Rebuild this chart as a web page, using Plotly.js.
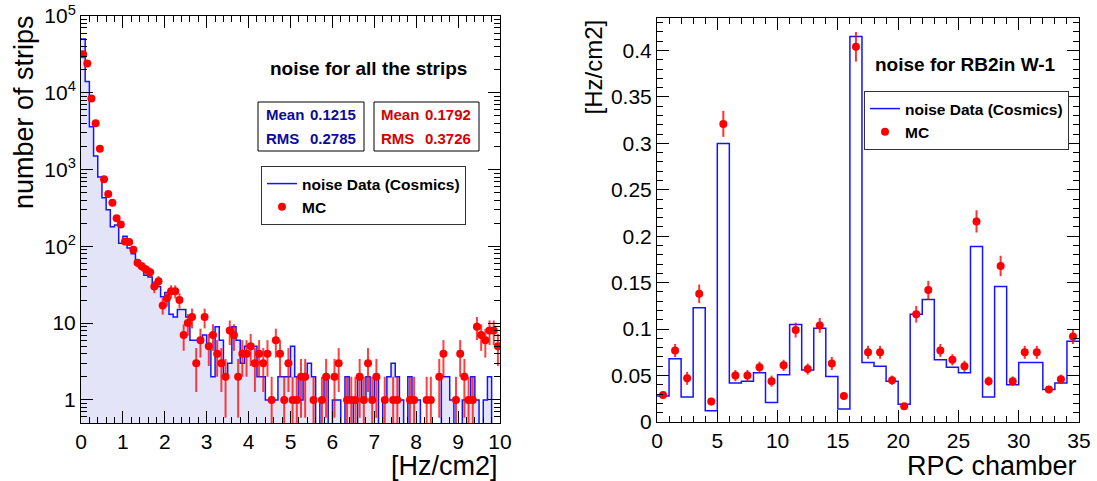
<!DOCTYPE html>
<html><head><meta charset="utf-8">
<script src="https://cdn.plot.ly/plotly-3.0.1.min.js"></script>
<style>html,body{margin:0;padding:0;background:#fff;} #chart{width:1097px;height:481px;}</style>
</head><body><div id="chart"></div>
<script>
// ---------- data ----------
const stripBinWidth = 0.1;
const stripNBins = 100;
const stripData = [50000,14000,3600,1500,800,430,300,180,190,110,
  135,95,80,65,52,42,40,33,30,22,
  25,13,12,15,15,12,6,6,6,7,
  5,2,9,6,2,3,9,6,3,5,
  5,5,2,2,1,1,1,2,2,2,
  5,2,1,2,3,2,0,1,2,0,
  1,1,0,2,1,0,2,1,2,1,
  2,0,1,2,3,2,1,0,2,1,
  1,0,0,0,0,0,2,2,1,0,
  0,1,1,2,1,0,1,2,0,0];
const stripMC = [31800,24000,8400,4000,1860,750,480,370,233,193,
  116,114,90,61,55,50,46,30,35,17,
  21,26,26,20,7,10,12,3,6,12,
  5,7,4,3,2,8,7,2,4,4,
  5,3,4,3,4,1,6,4,1,3,
  1,1,2,2,0,1,0,1,2,0,
  2,3,0,1,1,1,2,1,3,1,
  2,0,1,0,1,1,0,0,1,1,
  0,0,1,1,0,2,4,0,0,1,
  4,2,1,1,9,7,6,8,8,5];

const chamberNBins = 35;
const chamberData = [0.028,0.068,0.027,0.123,0.012,0.300,0.042,0.044,0.053,0.021,
  0.051,0.105,0.056,0.101,0.049,0.014,0.415,0.064,0.060,0.044,
  0.019,0.116,0.132,0.067,0.059,0.053,0.189,0.027,0.146,0.040,
  0.064,0.064,0.035,0.042,0.087];
const chamberMC = [0.029,0.077,0.047,0.138,0.022,0.321,0.050,0.050,0.059,0.044,
  0.061,0.099,0.057,0.104,0.063,0.028,0.404,0.075,0.075,0.045,
  0.017,0.116,0.142,0.077,0.067,0.060,0.216,0.044,0.168,0.044,
  0.075,0.075,0.035,0.046,0.092];
const chamberMCErr = [0.004,0.007,0.007,0.010,0.004,0.014,0.006,0.006,0.006,0.006,
  0.006,0.008,0.006,0.008,0.007,0.004,0.016,0.007,0.007,0.005,
  0.003,0.009,0.010,0.007,0.006,0.006,0.012,0.005,0.011,0.005,
  0.007,0.007,0.004,0.005,0.008];

const logTickVals = [1, 10, 100, 1000, 10000, 100000];
const logTickText = ['1', '10', '10<sup>2</sup>', '10<sup>3</sup>', '10<sup>4</sup>', '10<sup>5</sup>'];

const statNames = ['Mean', 'RMS'];
const dataStatValues = ['0.1215', '0.2785'];
const mcStatValues = ['0.1792', '0.3726'];
const legendNames = ['noise Data (Cosmics)', 'MC'];
const titles = ['noise for all the strips', 'noise for RB2in W-1'];
const axisTitles = {leftX: '[Hz/cm2]', leftY: 'number of strips', rightX: 'RPC chamber', rightY: '[Hz/cm2]'};

// ---------- helpers ----------
const W = 1097, H = 481;
const px = v => v / W;
const py = v => 1 - v / H;
const FONT = 'Liberation Sans, Arial, Helvetica, sans-serif';
const BLUE = 'rgb(20,20,255)';
const RED = 'rgb(255,0,0)';

const stripEdges = Array.from({length: stripNBins + 1}, (_, i) => +(i * stripBinWidth).toFixed(2));
const stripCenters = stripEdges.slice(0, -1).map(e => +(e + stripBinWidth / 2).toFixed(3));
const logFloor = 0.3; // below the visible log range: empty bins drop to the bottom edge
const stripStepY = stripData.map(v => v > 0 ? v : logFloor).concat([stripData[stripNBins - 1] > 0 ? stripData[stripNBins - 1] : logFloor]);

const chamberEdges = Array.from({length: chamberNBins + 1}, (_, i) => i);
const chamberCenters = chamberEdges.slice(0, -1).map(e => e + 0.5);
const chamberStepY = chamberData.concat([chamberData[chamberNBins - 1]]);

// ---------- traces ----------
const traces = [
  { type: 'bar', x: stripCenters, y: stripData, width: stripBinWidth,
    marker: {color: 'rgb(228,228,248)', line: {width: 0}},
    xaxis: 'x', yaxis: 'y', showlegend: false, hoverinfo: 'skip' },
  { type: 'scatter', mode: 'lines', x: stripEdges, y: stripStepY,
    line: {shape: 'hv', color: BLUE, width: 1.5},
    name: '<b>' + legendNames[0] + '</b>', legend: 'legend', xaxis: 'x', yaxis: 'y' },
  { type: 'scatter', mode: 'markers', x: stripCenters, y: stripMC,
    marker: {color: RED, size: 8, symbol: 'circle'},
    error_y: {type: 'sqrt', visible: true, color: 'rgba(255,0,0,0.75)', thickness: 2, width: 0},
    name: '<b>' + legendNames[1] + '</b>', legend: 'legend', xaxis: 'x', yaxis: 'y' },
  { type: 'scatter', mode: 'lines', x: chamberEdges, y: chamberStepY,
    line: {shape: 'hv', color: BLUE, width: 1.5},
    name: '<b>' + legendNames[0] + '</b>', legend: 'legend2', xaxis: 'x2', yaxis: 'y2' },
  { type: 'scatter', mode: 'markers', x: chamberCenters, y: chamberMC,
    marker: {color: RED, size: 8, symbol: 'circle'},
    error_y: {type: 'data', array: chamberMCErr, visible: true, color: 'rgba(255,0,0,0.8)', thickness: 2, width: 0},
    name: '<b>' + legendNames[1] + '</b>', legend: 'legend2', xaxis: 'x2', yaxis: 'y2' }
];

// log minor ticks
const logMinor = [];
for (let d = -1; d <= 4; d++) for (let k = 2; k <= 9; k++) logMinor.push(k * Math.pow(10, d));

const axBase = {
  showline: true, linecolor: '#000', linewidth: 1, mirror: 'allticks',
  ticks: 'inside', ticklen: 12, tickcolor: '#000', tickwidth: 1,
  showgrid: false, zeroline: false,
  tickfont: {family: FONT, size: 21, color: '#000'}
};

const legendBase = {
  xanchor: 'left', yanchor: 'top', bgcolor: '#fff', bordercolor: '#333', borderwidth: 1,
  font: {family: FONT, size: 15.5, color: '#000'}, tracegroupgap: 0
};

function ann(text, x, y, opts) {
  return Object.assign({text: text, x: px(x), y: py(y), xref: 'paper', yref: 'paper',
    showarrow: false, xanchor: 'center', yanchor: 'middle',
    font: {family: FONT, size: 15, color: '#000'}}, opts || {});
}

const annotations = [
  ann('<b>' + titles[0] + '</b>', 368, 69, {font: {family: FONT, size: 19, color: '#000'}}),
  ann('<b>' + titles[1] + '</b>', 965, 64, {font: {family: FONT, size: 19, color: '#000'}}),
  ann(axisTitles.leftX, 500, 466, {xanchor: 'right', font: {family: FONT, size: 27, color: '#000'}}),
  ann(axisTitles.rightX, 1079, 466, {xanchor: 'right', font: {family: FONT, size: 27, color: '#000'}}),
  ann(axisTitles.leftY, 24, 13, {yanchor: 'top', textangle: -90, font: {family: FONT, size: 27, color: '#000'}}),
  ann(axisTitles.rightY, 593, 18, {yanchor: 'top', textangle: -90, font: {family: FONT, size: 24, color: '#000'}})
];
const statRows = [114, 138];
const dataStatColor = 'rgb(10,10,160)', mcStatColor = 'rgb(215,0,0)';
statNames.forEach((nm, i) => {
  annotations.push(ann('<b>' + nm + '</b>', 264, statRows[i], {xanchor: 'left', font: {family: FONT, size: 15, color: dataStatColor}}));
  annotations.push(ann('<b>' + dataStatValues[i] + '</b>', 358, statRows[i], {xanchor: 'right', font: {family: FONT, size: 15, color: dataStatColor}}));
  annotations.push(ann('<b>' + nm + '</b>', 379, statRows[i], {xanchor: 'left', font: {family: FONT, size: 15, color: mcStatColor}}));
  annotations.push(ann('<b>' + mcStatValues[i] + '</b>', 473, statRows[i], {xanchor: 'right', font: {family: FONT, size: 15, color: mcStatColor}}));
});

const shapes = [
  {type: 'rect', xref: 'paper', yref: 'paper', x0: px(258), x1: px(364), y0: py(151), y1: py(102), line: {color: '#000', width: 1}, fillcolor: 'rgba(0,0,0,0)'},
  {type: 'rect', xref: 'paper', yref: 'paper', x0: px(374), x1: px(479), y0: py(151), y1: py(102), line: {color: '#000', width: 1}, fillcolor: 'rgba(0,0,0,0)'}
];

const layout = {
  width: W, height: H, margin: {l: 0, r: 0, t: 0, b: 0},
  paper_bgcolor: '#fff', plot_bgcolor: '#fff',
  bargap: 0,
  xaxis: Object.assign({}, axBase, {domain: [px(81), px(500)], range: [0, 10], dtick: 1, tick0: 0,
    minor: {dtick: 0.2, ticklen: 6, ticks: 'inside', tickcolor: '#000'}, anchor: 'y'}),
  yaxis: Object.assign({}, axBase, {domain: [py(423), py(16)], type: 'log', range: [-0.301, 5.0],
    tickmode: 'array', tickvals: logTickVals, ticktext: logTickText,
    minor: {tickvals: logMinor, ticklen: 6, ticks: 'inside', tickcolor: '#000'}, anchor: 'x'}),
  xaxis2: Object.assign({}, axBase, {domain: [px(657), px(1079)], range: [0, 35], dtick: 5, tick0: 0,
    minor: {dtick: 1, ticklen: 6, ticks: 'inside', tickcolor: '#000'}, anchor: 'y2'}),
  yaxis2: Object.assign({}, axBase, {domain: [py(422), py(18)], range: [0, 0.435], dtick: 0.05, tick0: 0,
    minor: {dtick: 0.01, ticklen: 6, ticks: 'inside', tickcolor: '#000'}, anchor: 'x2'}),
  legend: Object.assign({}, legendBase, {x: px(261), y: py(166)}),
  legend2: Object.assign({}, legendBase, {x: px(864), y: py(91)}),
  annotations: annotations,
  shapes: shapes
};

Plotly.newPlot('chart', traces, layout, {staticPlot: true, displayModeBar: false});
</script>
</body></html>
